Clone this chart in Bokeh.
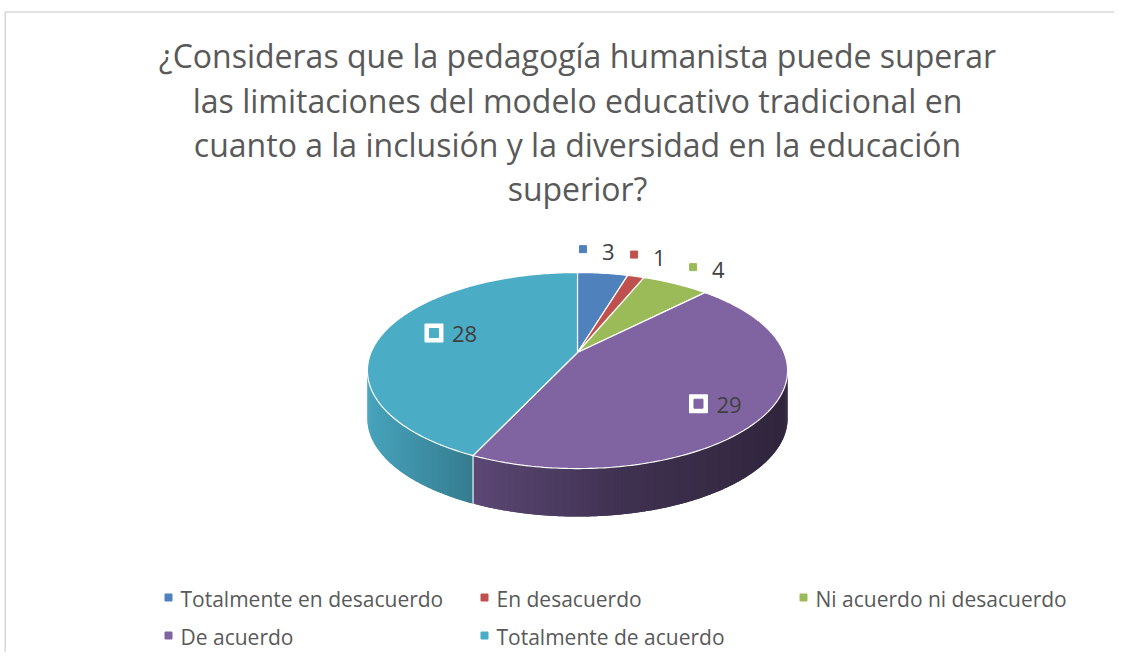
import numpy as np
from bokeh.plotting import figure
from bokeh.models import Range1d
from bokeh.core.properties import value
from bokeh.embed import file_html
from bokeh.resources import INLINE

# ---------------- data ----------------
categories = ["Totalmente en desacuerdo", "En desacuerdo", "Ni acuerdo ni desacuerdo",
              "De acuerdo", "Totalmente de acuerdo"]
counts = [3, 1, 4, 29, 28]
colors = ["#4f81bd", "#c0504d", "#9bbb59", "#8064a2", "#4bacc6"]
title_lines = ["¿Consideras que la pedagogía humanista puede superar",
               "las limitaciones del modelo educativo tradicional en",
               "cuanto a la inclusión y la diversidad en la educación",
               "superior?"]
label_inside = [False, False, False, True, True]

# ---------------- layout / style ----------------
W, H = 1114, 652
FONT = "Open Sans"
cx, cy = 577.0, 352.0      # projected centre of the pie
A, B, K = 206.5, 94.7, 0.184   # perspective projection of the pie disc
rx, ry = 210.0, 98.0       # nominal radii used for label placement
depth = 48.0               # thickness of the pie
title_y = [55, 100, 144, 188]
legend_cols = [168, 484, 803]
legend_rows = [597, 635]


def shade(hexcol, f):
    h = hexcol.lstrip("#")
    r, g, b = (int(h[i:i + 2], 16) for i in (0, 2, 4))
    return "#%02x%02x%02x" % (int(r * f), int(g * f), int(b * f))


def rim(theta):
    s, c = np.sin(theta), np.cos(theta)
    d = 1 + K * c
    return cx + A * s / d, cy - B * c / d


p = figure(width=W, height=H, x_range=Range1d(0, W), y_range=Range1d(H, 0),
           output_backend="svg", toolbar_location=None, min_border=0)
p.axis.visible = False
p.grid.visible = False
p.outline_line_color = None
p.background_fill_color = "white"

# chart area border
p.line([4.7, 4.7, 1200], [700, 11.5, 11.5], line_color="#d9d9d9", line_width=1.5)

# slice angles (clockwise from top)
vals = np.array(counts, dtype=float)
cum = np.concatenate([[0], np.cumsum(vals)]) / vals.sum() * 2 * np.pi
starts, ends = cum[:-1], cum[1:]

# ---------- side (front part, between the silhouette tangents) ----------
ta = np.arccos(-K)
tb = 2 * np.pi - ta
n = 200
th = np.linspace(ta, tb, n + 1)
step = th[1] - th[0]
xl, _ = rim(tb)
xr, _ = rim(ta)
xs_side, ys_side, cols_side = [], [], []
for i in range(n):
    a0, a1 = th[i], th[i + 1]
    am = 0.5 * (a0 + a1)
    k = min(int(np.searchsorted(ends, am)), len(counts) - 1)
    lo = max(a0 - 0.6 * step, starts[k], ta)
    hi = min(a1 + 0.6 * step, ends[k], tb)
    tt = np.linspace(lo, hi, 4)
    px, py = rim(tt)
    xm, _ = rim(am)
    t = (xm - xl) / (xr - xl)
    f = np.interp(t, [0, 0.25, 0.6, 1.0], [0.95, 0.72, 0.5, 0.38])
    xs_side.append(list(px) + list(px[::-1]))
    ys_side.append(list(py) + list(py[::-1] + depth))
    cols_side.append(shade(colors[k], f))
p.patches(xs_side, ys_side, fill_color=cols_side, line_color=None)

# white edge lines on the side at slice boundaries that fall on the front
for b in cum[1:-1]:
    if ta < b < tb:
        bx, by = rim(b)
        p.line([bx, bx], [by, by + depth], line_color="white", line_width=1.2, line_alpha=0.9)

# ---------- top faces ----------
xs_top, ys_top = [], []
for a0, a1 in zip(starts, ends):
    m = max(4, int((a1 - a0) / (2 * np.pi) * 400))
    tt = np.linspace(a0, a1, m)
    px, py = rim(tt)
    xs_top.append([cx] + list(px))
    ys_top.append([cy] + list(py))
p.patches(xs_top, ys_top, fill_color=colors, line_color="white", line_width=1.2)

# ---------- data labels ----------
mids = 0.5 * (starts + ends)
for k, (c, col, m) in enumerate(zip(counts, colors, mids)):
    if label_inside[k]:
        bx = cx + 0.7 * rx * np.sin(m)
        by = cy - 0.92 * ry * np.cos(m)
        p.scatter([bx], [by], marker="square", size=17, fill_color="white", line_color="white",
                  line_width=2, line_join="round")
        p.scatter([bx], [by], marker="square", size=9, fill_color=col, line_color=col)
        p.text([bx + 18], [by + 1], text=[str(c)], text_font=value(FONT), text_font_size="22px",
               text_color="#404040", text_align="left", text_baseline="alphabetic")
    else:
        mx = cx - 34 + 1.3 * rx * np.sin(m)
        my = cy + 13 - 1.2 * ry * np.cos(m)
        p.scatter([mx], [my], marker="square", size=7, fill_color=col, line_color=col)
        p.text([mx + 19], [my + 3], text=[str(c)], text_font=value(FONT), text_font_size="22px",
               text_color="#404040", text_align="left", text_baseline="alphabetic")

# ---------- title ----------
p.text([cx] * len(title_lines), title_y, text=title_lines, text_font=value(FONT),
       text_font_size="32px", text_color="#595959", text_align="center",
       text_baseline="alphabetic")

# ---------- legend ----------
lx, ly = [], []
for i in range(len(categories)):
    lx.append(legend_cols[i % 3])
    ly.append(legend_rows[i // 3])
p.scatter(lx, ly, marker="square", size=7, fill_color=colors, line_color=colors)
p.text([x + 12 for x in lx], [y + 1 for y in ly], text=categories, text_font=value(FONT),
       text_font_size="21px", text_color="#595959", text_align="left",
       text_baseline="alphabetic")

open("out.html", "w").write(file_html(p, INLINE))
